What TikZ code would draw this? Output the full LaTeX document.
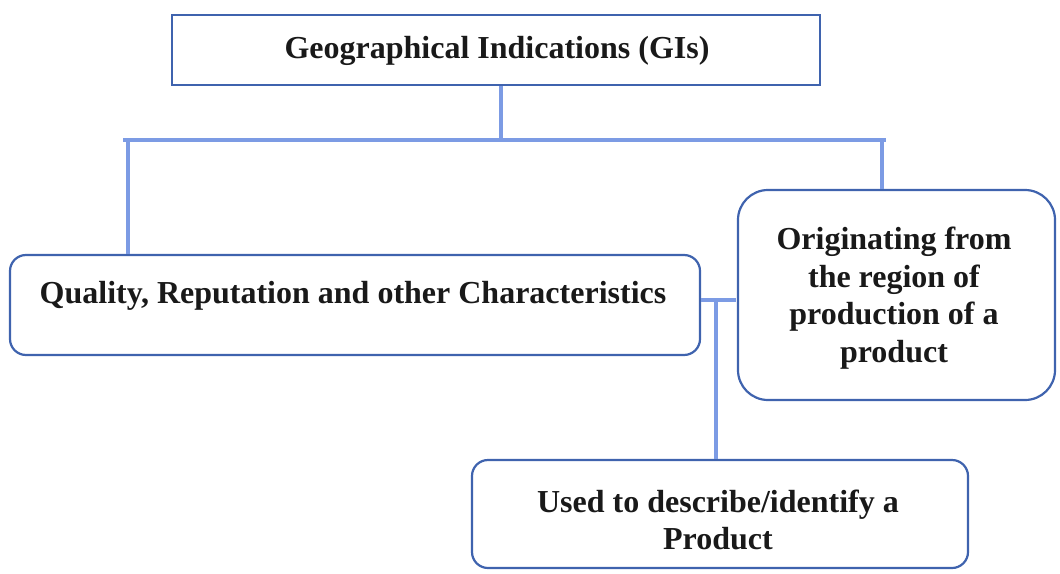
\documentclass[tikz,border=0pt]{standalone}
\usepackage{fontspec}
\setmainfont{Liberation Serif}
\begin{document}
\begin{tikzpicture}[x=1pt,y=-1pt,
  boxline/.style={draw=boxblue, line width=2.2pt},
  plainbox/.style={boxline, rectangle, inner sep=0pt},
  roundbox/.style={boxline, rectangle, rounded corners=16pt, inner sep=0pt},
  biground/.style={boxline, rectangle, rounded corners=30pt, inner sep=0pt},
  link/.style={draw=linkblue, line width=4pt},
  txt/.style={font=\bfseries\fontsize{32}{37.5}\selectfont, align=center, text=black!90}]
\definecolor{boxblue}{HTML}{3F63AE}
\definecolor{linkblue}{HTML}{7C9BE4}
\useasboundingbox (0,0) rectangle (1060,573);

% boxes
\node[plainbox, minimum width=648pt, minimum height=70pt] (gi) at (496,50) {};
\node[txt] (gitxt) at (497,51) {Geographical Indications (GIs)};

\node[roundbox, minimum width=690pt, minimum height=100pt] (qual) at (355,305) {};
\node[txt] (qualtxt) at (353,296) {Quality, Reputation and other Characteristics};

\node[biground, minimum width=317pt, minimum height=210pt] (orig) at (896.5,295) {};
\node[txt] (origtxt) at (894,298) {Originating from\\the region of\\production of a\\product};

\node[roundbox, minimum width=496pt, minimum height=108pt] (used) at (720,514) {};
\node[txt] (usedtxt) at (718,520) {Used to describe/identify a\\Product};

% tree connectors
\coordinate (hub) at (501,140);
\coordinate (jl) at (128,140);
\coordinate (jr) at (882,140);
\coordinate (barl) at (123,140);
\coordinate (barr) at (886,140);
\draw[link] (gi.south -| hub) -- (hub);
\draw[link] (barl) -- (barr);
\draw[link] (jl) -- (qual.north -| jl);
\draw[link] (jr) -- (orig.north -| jr);

% side stub towards the lower box
\coordinate (stub) at (716,300);
\coordinate (stubend) at (736,300);
\draw[link] (qual.east |- stub) -- (stubend);
\draw[link] (stub) -- (used.north -| stub);
\end{tikzpicture}
\end{document}
